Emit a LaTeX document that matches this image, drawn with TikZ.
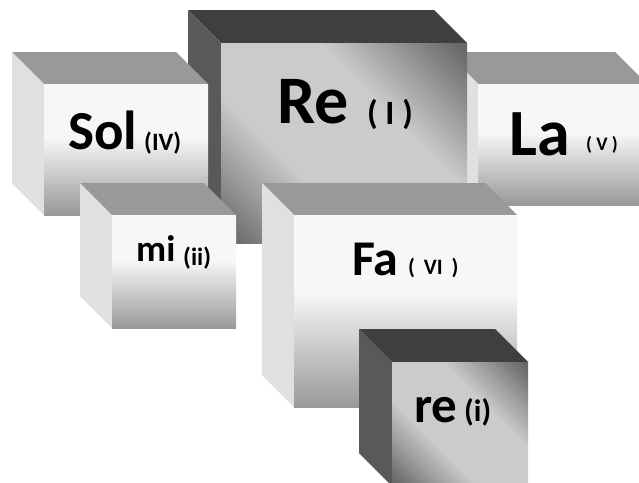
\documentclass[tikz,border=0pt]{standalone}
\usepackage{fontspec}
\setmainfont{Carlito}

% face colours
\definecolor{lighttopc}{HTML}{999999}
\definecolor{lightsidec}{HTML}{E0E0E0}
\definecolor{lightbottomc}{HTML}{999999}
\definecolor{darktopc}{HTML}{3F3F3F}
\definecolor{darksidec}{HTML}{595959}
\definecolor{darkedgec}{HTML}{686868}
\definecolor{darkmidc}{HTML}{CBCBCB}

% front faces: white-to-grey for the light blocks, diagonal band for the dark ones
\pgfdeclareverticalshading{lightface}{100bp}{color(0bp)=(lightbottomc); color(25bp)=(lightbottomc); color(55bp)=(white!97!black); color(100bp)=(white!97!black)}
\pgfdeclarehorizontalshading{darkface}{100bp}{color(0bp)=(darkedgec); color(16bp)=(darkedgec); color(38bp)=(darkmidc); color(62bp)=(darkmidc); color(84bp)=(darkedgec); color(100bp)=(darkedgec)}

\tikzset{
  lighttop/.style={fill=lighttopc},
  lightside/.style={fill=lightsidec},
  lightfront/.style={shading=lightface},
  darktop/.style={fill=darktopc},
  darkside/.style={fill=darksidec},
  darkfront/.style={shading=darkface, shading angle=45},
  lbl/.style={inner sep=0pt, anchor=base west, text=black}
}

% a block seen from the front: front face (x1,y1)-(x2,y2), depth d, kind light/dark
\newcommand\blockcube[6]{%
  \fill[#6top] (#1-#5,#2-#5) -- (#3-#5,#2-#5) -- (#3,#2) -- (#1,#2) -- cycle;
  \fill[#6side] (#1-#5,#2-#5) -- (#1,#2) -- (#1,#4) -- (#1-#5,#4-#5) -- cycle;
  \shade[#6front] (#1,#2) rectangle (#3,#4);
}

\begin{document}
\begin{tikzpicture}[x=1pt, y=-1pt]
\useasboundingbox (0,0) rectangle (639,482);
\clip (0,0) rectangle (639,482);
\fill[white] (0,0) rectangle (639,482);

% blocks, back to front
\blockcube{478}{84}{647}{205}{32}{light}   % La
\blockcube{221}{43}{467}{243}{33}{dark}    % Re
\blockcube{44}{84}{208}{215}{32}{light}    % Sol
\blockcube{112}{215}{236}{328}{32}{light}  % mi
\blockcube{294}{215}{517}{407}{32}{light}  % Fa
\blockcube{392}{362}{528}{486}{33}{dark}   % re

% labels
\node[lbl, font=\bfseries\fontsize{55}{55}\selectfont] (sol) at (68,149) {Sol};
\node[lbl, font=\bfseries\fontsize{25}{25}\selectfont] (solnum) at (144,150) {(IV)};

\node[lbl, font=\bfseries\fontsize{68}{68}\selectfont] (re1) at (277,123) {Re};
\node[lbl, font=\bfseries\fontsize{34}{34}\selectfont] (re1num) at (367,124) {( I )};

\node[lbl, font=\bfseries\fontsize{66}{66}\selectfont] (la) at (509,155) {La};
\node[lbl, font=\bfseries\fontsize{19}{19}\selectfont] (lanum) at (586,150) {( V )};

\node[lbl, font=\bfseries\fontsize{37}{37}\selectfont] (mi) at (136,261) {mi};
\node[lbl, font=\bfseries\fontsize{25}{25}\selectfont] (minum) at (183,265) {(ii)};

\node[lbl, font=\bfseries\fontsize{50}{50}\selectfont] (fa) at (352,275) {Fa};
\node[lbl, font=\bfseries\fontsize{22}{22}\selectfont] (fanum) at (408,274) {(\hspace{0.4em}VI\hspace{0.4em})};

\node[lbl, font=\bfseries\fontsize{51}{51}\selectfont] (re2) at (414,422) {re};
\node[lbl, font=\bfseries\fontsize{31}{31}\selectfont] (re2num) at (464,421) {(i)};
\end{tikzpicture}
\end{document}
